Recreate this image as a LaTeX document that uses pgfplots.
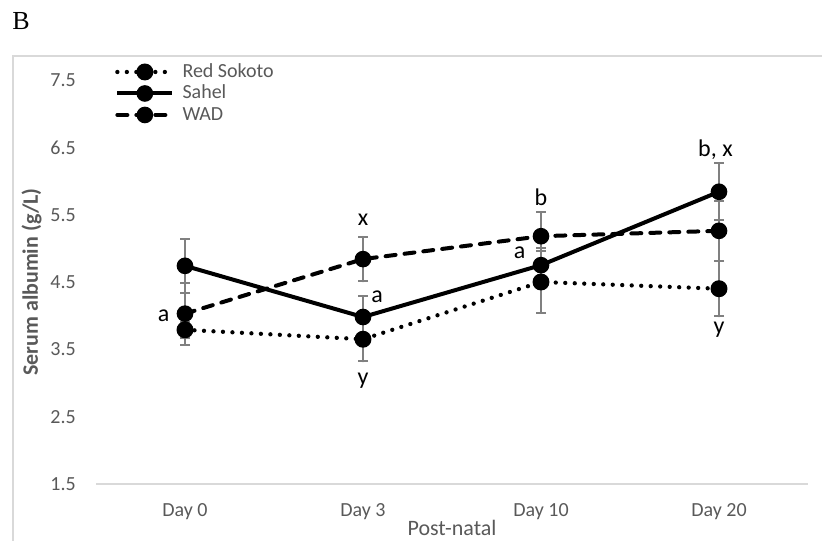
\documentclass[border=0pt]{standalone}
\usepackage{fontspec}
\setmainfont{Carlito}
\newfontfamily\seriffont{Liberation Serif}
\usepackage{pgfplots}
\pgfplotsset{compat=1.18}
\usepackage{pgfplotstable}
\definecolor{txt}{HTML}{595959}
\definecolor{errg}{HTML}{808080}
\definecolor{axg}{HTML}{D9D9D9}

\pgfplotstableread{
x y e
0 3.79 0.12
1 3.65 0.33
2 4.50 0.46
3 4.40 0.41
}\redsokoto
\pgfplotstableread{
x y e
0 4.74 0.40
1 3.98 0.31
2 4.75 0.25
3 5.84 0.42
}\sahel
\pgfplotstableread{
x y e
0 4.03 0.46
1 4.84 0.33
2 5.18 0.36
3 5.26 0.45
}\wad

\begin{document}
\begin{tikzpicture}
\path[use as bounding box] (0,0) rectangle (822bp,541bp);
\draw[axg, line width=1.5bp] (13bp,0) -- (13bp,485bp) -- (823bp,485bp);
\node[font=\seriffont\fontsize{26bp}{30bp}\selectfont, inner sep=0pt] at (21bp,520bp) {B};
\begin{axis}[
  at={(96bp,57bp)}, anchor=south west, scale only axis,
  width=712bp, height=404bp,
  xmin=-0.5, xmax=3.5, ymin=1.5, ymax=7.5,
  xtick={0,1,2,3}, xticklabels={Day 0,Day 3,Day 10,Day 20},
  ytick={1.5,2.5,3.5,4.5,5.5,6.5,7.5},
  /pgf/number format/assume math mode=true,
  yticklabel style={/pgf/number format/fixed, /pgf/number format/precision=1, /pgf/number format/fixed zerofill, anchor=east, inner sep=0pt, xshift=-20bp},
  xticklabel style={anchor=north, inner sep=0pt, yshift=-19bp},
  tick label style={font=\fontsize{20bp}{24bp}\selectfont, text=txt},
  axis line style={draw=none}, tick style={draw=none},
  xlabel={Post-natal},
  xlabel style={at={(axis description cs:0.5,-0.089)}, anchor=north, inner sep=0pt, font=\fontsize{22bp}{26bp}\selectfont, text=txt},
  ylabel={\bfseries Serum albumin (g/L)},
  ylabel style={at={(axis description cs:-0.0906,0.5)}, anchor=center, inner sep=0pt, rotate=0, font=\fontsize{22bp}{26bp}\selectfont, text=txt},
  legend image code/.code={\draw[mark repeat=2,mark phase=2,#1] plot coordinates {(0bp,0bp)(27.5bp,0bp)(55bp,0bp)};},
  legend cell align=left,
  legend style={at={(axis description cs:0.0267,1.042)}, anchor=north west, draw=none, fill=none,
    font=\fontsize{20bp}{24bp}\selectfont, text=txt, inner sep=0pt, row sep=4bp,
    nodes={inner sep=0pt, text height=14bp, text depth=3.5bp}, column sep=0bp},
  legend style={/tikz/every odd column/.append style={column sep=8bp}},
  clip=false,
  error bars/y dir=both, error bars/y explicit,
  error bars/error bar style={errg, line width=2bp, solid},
  error bars/error mark options={errg, line width=2bp, mark size=5bp, rotate=90, solid},
]
\draw[axg, line width=1.5bp] (rel axis cs:0,0) -- (rel axis cs:1,0);
\addplot[black, line width=4.3bp, line cap=round, dash pattern=on 0bp off 9.5bp, mark=*, mark size=6.3bp, mark options={solid, fill=black}]
  table[x=x, y=y, y error=e]{\redsokoto};
\addlegendentry{Red Sokoto}
\addplot[black, line width=4bp, mark=*, mark size=6.3bp, mark options={solid, fill=black}]
  table[x=x, y=y, y error=e]{\sahel};
\addlegendentry{Sahel}
\addplot[black, line width=4bp, line cap=round, dash pattern=on 10bp off 9bp, mark=*, mark size=6.3bp, mark options={solid, fill=black}]
  table[x=x, y=y, y error=e]{\wad};
\addlegendentry{WAD}
\begin{scope}[every node/.style={font=\fontsize{24bp}{28bp}\selectfont, text=black, inner sep=0pt}]
\node at (axis cs:-0.12,4.00) {a};
\node at (axis cs:1,5.42) {x};
\node at (axis cs:1.08,4.28) {a};
\node at (axis cs:1,3.03) {y};
\node at (axis cs:2,5.76) {b};
\node at (axis cs:1.88,4.93) {a};
\node at (axis cs:2.98,6.46) {b, x};
\node at (axis cs:3,3.79) {y};
\end{scope}
\end{axis}
\end{tikzpicture}
\end{document}
